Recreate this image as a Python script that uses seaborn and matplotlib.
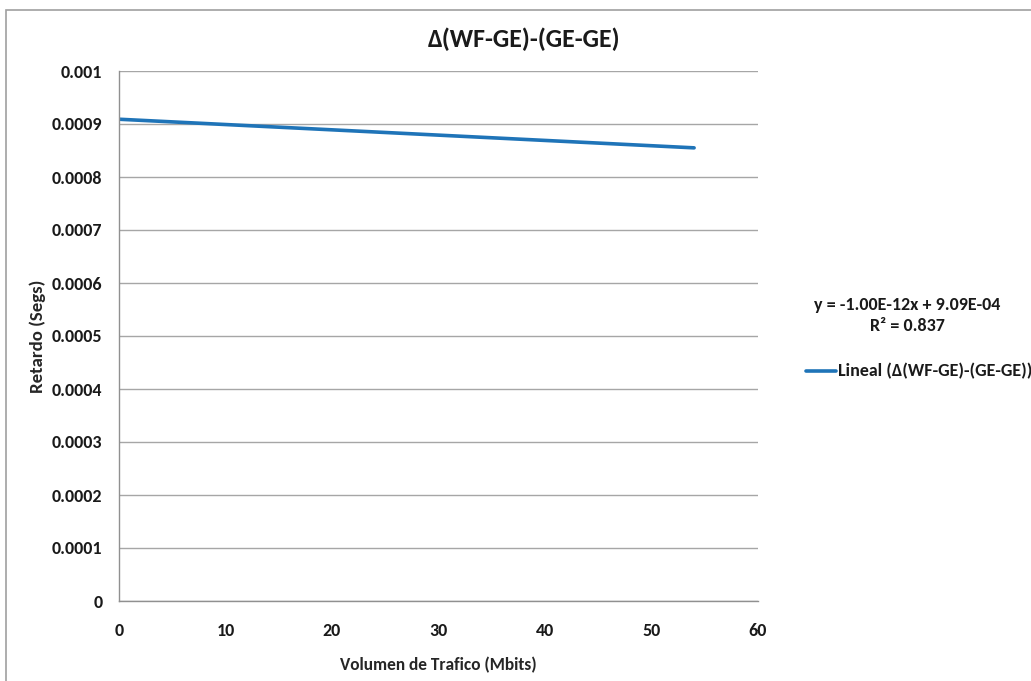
import matplotlib
matplotlib.use("Agg")
import matplotlib.pyplot as plt
import seaborn as sns
import pandas as pd
from matplotlib.patches import Rectangle

# datos de la linea de tendencia
volumen = [0, 54]
retardo = [0.000909, 0.000855]
x_ticks = [0, 10, 20, 30, 40, 50, 60]
y_ticks = [0, 0.0001, 0.0002, 0.0003, 0.0004, 0.0005, 0.0006, 0.0007, 0.0008, 0.0009, 0.001]
y_labels = ["0", "0.0001", "0.0002", "0.0003", "0.0004", "0.0005", "0.0006", "0.0007", "0.0008", "0.0009", "0.001"]

df = pd.DataFrame({"volumen": volumen, "retardo": retardo})

sns.set_style("white")
plt.rcParams["font.family"] = ["Carlito", "DejaVu Sans"]
plt.rcParams["font.weight"] = "bold"
plt.rcParams["text.color"] = "#1a1a1a"

W, H = 1031, 681
fig = plt.figure(figsize=(W / 100, H / 100), dpi=100)
fig.patches.append(Rectangle((6 / W, -0.1), 1.1, 1 - 10 / H + 0.1, transform=fig.transFigure,
                             fill=False, edgecolor="#a0a0a0", linewidth=1.2))
ax = fig.add_axes([119 / W, 1 - 601 / H, (758 - 119) / W, (601 - 71) / H])

sns.lineplot(data=df, x="volumen", y="retardo", ax=ax, color="#1f74b8", linewidth=2.6)

ax.set_xlim(0, 60)
ax.set_ylim(0, 0.001)
ax.set_xticks(x_ticks)
ax.set_yticks(y_ticks)
ax.set_yticklabels(y_labels)
ax.grid(axis="y", color="#a6a6a6", linewidth=1)
ax.set_axisbelow(True)
for s in ["top", "right"]:
    ax.spines[s].set_visible(False)
for s in ["left", "bottom"]:
    ax.spines[s].set_color("#909090")
    ax.spines[s].set_linewidth(1)
ax.tick_params(axis="both", direction="out", length=6, color="#909090", labelsize=13,
               labelcolor="#1a1a1a")
ax.tick_params(axis="y", pad=6)
ax.tick_params(axis="x", pad=10)
for lab in ax.get_xticklabels() + ax.get_yticklabels():
    lab.set_fontweight("bold")

ax.set_xlabel("Volumen de Trafico (Mbits)", fontsize=12.5, fontweight="bold", labelpad=13)
ax.set_ylabel("Retardo (Segs)", fontsize=13.5, fontweight="bold", labelpad=4)

fig.text(524 / W, 1 - 39 / H, "Δ(WF-GE)-(GE-GE)", ha="center", va="center", fontsize=18.5, fontweight="bold")

# ecuacion y leyenda
fig.text(907 / W, 1 - 305 / H, "y = -1.00E-12x + 9.09E-04", ha="center", va="center",
         fontsize=13, fontweight="bold")
fig.text(907 / W, 1 - 326 / H, "R² = 0.837", ha="center", va="center",
         fontsize=13, fontweight="bold")
fig.add_artist(plt.Line2D([806 / W, 836 / W], [1 - 371 / H] * 2, transform=fig.transFigure,
                          color="#1f74b8", linewidth=2.6))
fig.text(838 / W, 1 - 371 / H, "Lineal (Δ(WF-GE)-(GE-GE))", ha="left", va="center",
         fontsize=13, fontweight="bold")

fig.savefig("out.png", dpi=100)
